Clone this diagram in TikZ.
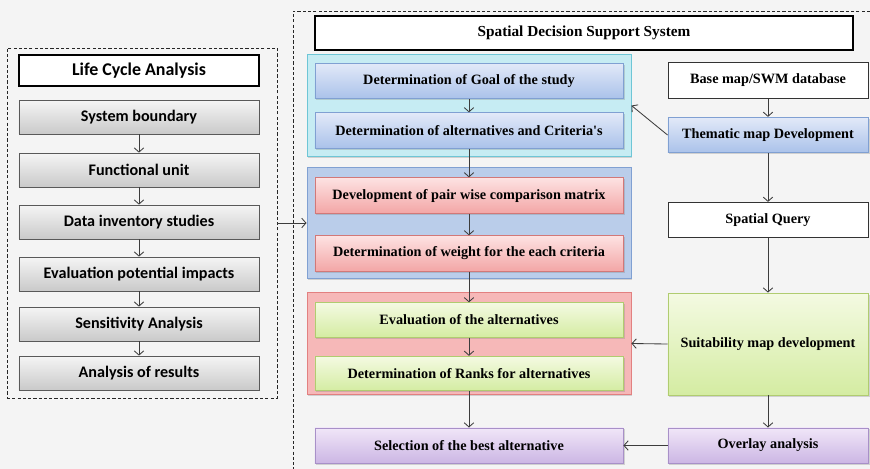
\documentclass[tikz,border=0pt]{standalone}
\usepackage{fontspec}
\usepackage{xcolor}
\usepackage{tikz}
\usetikzlibrary{arrows,arrows.meta,shadows}

\newfontfamily\lcafont{Carlito}
\newfontfamily\sdssfont{Liberation Serif}

\definecolor{bgpaper}{RGB}{244,244,244}
\definecolor{flowline}{RGB}{60,60,60}
\definecolor{cyanedge}{RGB}{110,198,214}
\definecolor{cyanfill}{RGB}{198,236,243}
\definecolor{blueedge}{RGB}{128,160,210}
\definecolor{bluefill}{RGB}{186,205,234}
\definecolor{bluetop}{RGB}{226,233,248}
\definecolor{bluebot}{RGB}{170,194,234}
\definecolor{rededge}{RGB}{226,128,128}
\definecolor{redfill}{RGB}{246,184,184}
\definecolor{pinktop}{RGB}{253,226,226}
\definecolor{pinkbot}{RGB}{243,166,166}
\definecolor{pinkedge}{RGB}{210,120,120}
\definecolor{greentop}{RGB}{244,250,226}
\definecolor{greenbot}{RGB}{212,236,162}
\definecolor{greenedge}{RGB}{176,204,112}
\definecolor{violettop}{RGB}{240,230,248}
\definecolor{violetbot}{RGB}{204,182,228}
\definecolor{violetedge}{RGB}{168,144,200}

\begin{document}
\begin{tikzpicture}[>={Straight Barb[length=4pt,width=9pt]},
    boxshadow/.style = {drop shadow = {shadow xshift = 0.05cm,
                                       shadow yshift = -0.05cm,
                                       opacity = 0.3}},
    lcabox/.style = {rectangle, draw = gray!70!black, line width = 0.8pt,
                     top color = gray!8, bottom color = gray!42,
                     minimum width = 8cm, minimum height = 1.13cm, boxshadow},
    titlebox/.style = {rectangle, draw = black, line width = 1.6pt,
                       fill = white, boxshadow},
    bluebox/.style = {rectangle, draw = blueedge, line width = 0.8pt,
                      top color = bluetop, bottom color = bluebot,
                      minimum height = 1.18cm, boxshadow},
    pinkbox/.style = {rectangle, draw = pinkedge, line width = 0.8pt,
                      top color = pinktop, bottom color = pinkbot,
                      minimum width = 10.27cm, minimum height = 1.18cm, boxshadow},
    greenbox/.style = {rectangle, draw = greenedge, line width = 0.8pt,
                       top color = greentop, bottom color = greenbot,
                       minimum width = 10.27cm, minimum height = 1.15cm, boxshadow},
    violetbox/.style = {rectangle, draw = violetedge, line width = 0.8pt,
                        top color = violettop, bottom color = violetbot,
                        minimum height = 1.17cm, boxshadow},
    plainbox/.style = {rectangle, draw = black!80, line width = 0.8pt,
                       fill = white, minimum width = 6.67cm,
                       minimum height = 1.18cm},
    panel/.style = {rectangle, line width = 0.9pt,
                    minimum width = 10.8cm, boxshadow},
    lcatext/.style = {font = \lcafont\bfseries\fontsize{15.3}{17}\selectfont},
    lcatitle/.style = {font = \lcafont\bfseries\fontsize{17}{19}\selectfont},
    sdsstext/.style = {font = \sdssfont\bfseries\fontsize{13.5}{15}\selectfont},
    sdsstitle/.style = {font = \sdssfont\bfseries\fontsize{14.5}{16}\selectfont},
    frame/.style = {draw = black!85, line width = 0.8pt,
                    dash pattern = on 3pt off 2pt}
    ]

    \useasboundingbox (0,0) rectangle (29,-15.633);
    \fill[bgpaper] (0,0) rectangle (29,-15.633);

    % left frame
    \node[rectangle,
          frame,
          minimum width = 9cm,
          minimum height = 11.67cm
          ] (lcaframe) at (4.733,-7.433) {};

    \node[titlebox,
          minimum width = 8cm,
          minimum height = 1.03cm
          ] (lca) at (4.633,-2.35) {};
    \node[lcatitle] (lcatxt) at (lca.center) {Life Cycle Analysis};

    \node[lcabox] (sysb) at (4.633,-3.9) {};
    \node[lcatext] (sysbtxt) at (sysb.center) {System boundary};

    \node[lcabox] (func) at (4.633,-5.667) {};
    \node[lcatext] (functxt) at (func.center) {Functional unit};

    \node[lcabox] (data) at (4.633,-7.4) {};
    \node[lcatext] (datatxt) at (data.center) {Data inventory studies};

    \node[lcabox] (impact) at (4.633,-9.133) {};
    \node[lcatext] (impacttxt) at (impact.center) {Evaluation potential impacts};

    \node[lcabox] (sens) at (4.633,-10.8) {};
    \node[lcatext] (senstxt) at (sens.center) {Sensitivity Analysis};

    \node[lcabox] (res) at (4.633,-12.433) {};
    \node[lcatext] (restxt) at (res.center) {Analysis of results};

    % right frame
    \draw[frame] (29,-0.37) -- (9.767,-0.37) -- (9.767,-15.633);

    \node[titlebox,
          minimum width = 17.93cm,
          minimum height = 1.13cm
          ] (sdss) at (19.467,-1.1) {};
    \node[sdsstitle] (sdsstxt) at (sdss.center) {Spatial Decision Support System};

    % panels
    \node[panel,
          draw = cyanedge,
          fill = cyanfill,
          minimum height = 3.43cm
          ] (cyanpanel) at (15.633,-3.517) {};

    \node[panel,
          draw = blueedge,
          fill = bluefill,
          minimum height = 3.73cm
          ] (bluepanel) at (15.633,-7.433) {};

    \node[panel,
          draw = rededge,
          fill = redfill,
          minimum height = 3.37cm
          ] (redpanel) at (15.633,-11.45) {};

    % middle column
    \node[bluebox, minimum width = 10.27cm] (goal) at (15.633,-2.7) {};
    \node[sdsstext] (goaltxt) at (goal.center) {Determination of Goal of the study};

    \node[bluebox, minimum width = 10.27cm] (alts) at (15.633,-4.35) {};
    \node[sdsstext] (altstxt) at (alts.center) {Determination of alternatives and Criteria's};

    \node[pinkbox] (pair) at (15.633,-6.517) {};
    \node[sdsstext] (pairtxt) at (pair.center) {Development of pair wise comparison matrix};

    \node[pinkbox] (weight) at (15.633,-8.45) {};
    \node[sdsstext] (weighttxt) at (weight.center) {Determination of weight for the each criteria};

    \node[greenbox] (evalalt) at (15.633,-10.667) {};
    \node[sdsstext] (evalalttxt) at (evalalt.center) {Evaluation of the alternatives};

    \node[greenbox] (ranks) at (15.633,-12.45) {};
    \node[sdsstext] (rankstxt) at (ranks.center) {Determination of Ranks for alternatives};

    \node[violetbox, minimum width = 10.27cm] (select) at (15.633,-14.85) {};
    \node[sdsstext] (selecttxt) at (select.center) {Selection of the best alternative};

    % right column
    \node[plainbox] (base) at (25.6,-2.683) {};
    \node[sdsstext] (basetxt) at (base.center) {Base map/SWM database};

    \node[bluebox, minimum width = 6.67cm] (them) at (25.6,-4.5) {};
    \node[sdsstext] (themtxt) at (them.center) {Thematic map Development};

    \node[plainbox] (query) at (25.6,-7.333) {};
    \node[sdsstext] (querytxt) at (query.center) {Spatial Query};

    \node[greenbox,
          minimum width = 6.67cm,
          minimum height = 3.4cm
          ] (suit) at (25.6,-11.467) {};
    \node[sdsstext] (suittxt) at (suit.center) {Suitability map development};

    \node[violetbox, minimum width = 6.67cm] (overlay) at (25.6,-14.85) {};
    \node[sdsstext] (overlaytxt) at (overlay.center) {Overlay analysis};


    \path[->, color = flowline, line width = 0.8pt]
    %lca path
    (sysb) edge [] (func)
    (func) edge [] (data)
    (data) edge [] (impact)
    (impact) edge [] (sens)
    (sens) edge [] (res)
    (lcaframe.east) edge [] (bluepanel.west)
    %sdss path
    (goal) edge [] (alts)
    (alts) edge [] (pair)
    (pair) edge [] (weight)
    (weight) edge [] (evalalt)
    (evalalt) edge [] (ranks)
    (ranks) edge [] (select)
    %gis path
    (base) edge [] (them)
    (them.west) edge [] (cyanpanel.east)
    (them) edge [] (query)
    (query) edge [] (suit)
    (suit.west) edge [] (redpanel.east)
    (suit) edge [] (overlay)
    (overlay) edge [] (select) ;

\end{tikzpicture}
\end{document}
